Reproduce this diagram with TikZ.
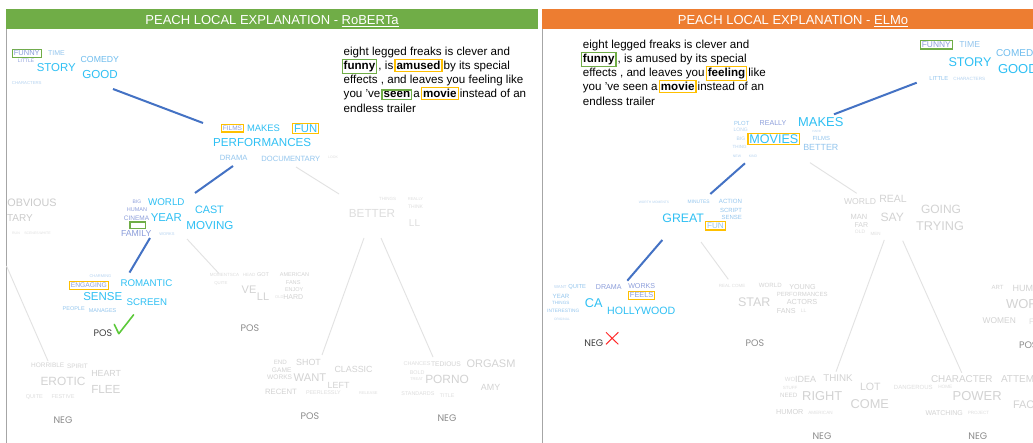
\documentclass[tikz,border=0pt]{standalone}
\usepackage{fontspec}
\setmainfont{Liberation Sans}
\newfontfamily\labfont{Poppins}

\definecolor{barG}{HTML}{70AD47}
\definecolor{barO}{HTML}{ED7D31}
\definecolor{boxG}{HTML}{70AD47}
\definecolor{boxO}{HTML}{FFC000}
\definecolor{wCyan}{HTML}{2FC0F4}
\definecolor{wSky}{HTML}{6FBDEE}
\definecolor{wPale}{HTML}{94C6EE}
\definecolor{wPeri}{HTML}{8C9EDB}
\definecolor{wFaint}{HTML}{B5D3F0}
\definecolor{gA}{HTML}{CBCBCB}
\definecolor{gB}{HTML}{D3D3D3}
\definecolor{gC}{HTML}{DEDEDE}
\definecolor{edgeOn}{HTML}{4472C4}
\definecolor{edgeOff}{HTML}{E2E2E2}
\definecolor{labOn}{HTML}{404040}
\definecolor{labOff}{HTML}{8C8C8C}
\definecolor{frameC}{HTML}{A6A6A6}
\definecolor{tickC}{HTML}{5CC93A}
\definecolor{crossC}{HTML}{FF2A2A}

\setlength{\fboxsep}{1pt}
\setlength{\fboxrule}{1.2pt}
% highlighted token inside the sentence; the frame overhangs into the spaces
\newcommand{\hlbox}[2]{\hspace*{-2.2pt}\smash{\fcolorbox{#1}{white}{\textbf{#2}}}\hspace*{-2.2pt}}
% one word of a word cloud: [options]{name}{x}{y}{size}{colour}{text}
\newcommand{\cloudword}[7][]{\node[cloud,text=#6,font=\fontsize{#5}{#5}\selectfont,#1] (#2) at (#3,#4) {#7};}

\tikzset{
  cloud/.style={inner sep=0pt, outer sep=0pt, anchor=center},
  gframe/.style={draw=boxG, line width=1.2pt, inner sep=1.4pt},
  oframe/.style={draw=boxO, line width=1.2pt, inner sep=1.4pt},
  edgeon/.style={draw=edgeOn, line width=2pt},
  edgeoff/.style={draw=edgeOff, line width=0.9pt},
  leafon/.style={cloud, text=labOn, font=\labfont\fontsize{9.5}{9.5}\selectfont},
  leafoff/.style={cloud, text=labOff, font=\labfont\fontsize{9.5}{9.5}\selectfont},
  header/.style={inner sep=0pt, anchor=base, text=white, font=\fontsize{13}{13}\selectfont},
  sentence/.style={inner sep=0pt, anchor=north west, align=left, font=\fontsize{11.6}{14.1}\selectfont},
}

\begin{document}
\begin{tikzpicture}[x=1pt,y=-1pt]
\useasboundingbox (0,0) rectangle (1033,443);
\fill[white] (0,0) rectangle (1033,443);

% ---------- panel frames and title bars ----------
\fill[barG] (6,9) rectangle (538,29);
\fill[barO] (541.5,9) rectangle (1033,29);
\draw[frameC, line width=0.8pt] (6.5,29) -- (6.5,443);
\draw[frameC, line width=0.8pt] (542,29) -- (542,443);
\node[header] (titleL) at (272,24.2) {PEACH LOCAL EXPLANATION - \underline{RoBERTa}};
\node[header] (titleR) at (793,24.2) {PEACH LOCAL EXPLANATION - \underline{ELMo}};

% ---------- input sentences ----------
\node[sentence] (sentL) at (343.5,47) {eight legged freaks is clever and\\
\hlbox{boxG}{funny} , is \hlbox{boxO}{amused} by its special\\
effects , and leaves you feeling like\\
you 've \hlbox{boxG}{seen} a \hlbox{boxO}{movie} instead of an\\
endless trailer};
\node[sentence] (sentR) at (582.7,40) {eight legged freaks is clever and\\
\hlbox{boxG}{funny} , is amused by its special\\
effects , and leaves you \hlbox{boxO}{feeling} like\\
you 've seen a \hlbox{boxO}{movie} instead of an\\
endless trailer};

% ================= RoBERTa tree =================
% root cloud
\cloudword[gframe]{Lfunny}{26.8}{53.3}{7.5}{wPeri}{FUNNY}
\cloudword{Ltime}{56.5}{53.3}{7}{wPale}{TIME}
\cloudword{Lcomedy}{99.8}{60}{8.7}{wSky}{COMEDY}
\cloudword{Lstory}{56.3}{67.3}{11.4}{wCyan}{STORY}
\cloudword{Lgood}{100}{74.7}{11.6}{wCyan}{GOOD}
\cloudword{Llittle}{26}{61}{4.9}{wPeri}{LITTLE}
\cloudword{Lchar}{26.8}{83}{4.3}{wFaint}{CHARACTERS}
% second level
\cloudword[oframe]{Lfilms}{232.5}{128.3}{6.5}{wPeri}{FILMS}
\cloudword{Lmakes}{263.5}{128.3}{9.4}{wCyan}{MAKES}
\cloudword[oframe]{Lfun}{305.7}{128.5}{11.3}{wCyan}{FUN}
\cloudword{Lperf}{262.2}{142.7}{11.6}{wCyan}{PERFORMANCES}
\cloudword{Ldrama}{233.7}{157.7}{7.6}{wPale}{DRAMA}
\cloudword{Ldoc}{290.8}{159}{7.6}{wPale}{DOCUMENTARY}
\cloudword{Llook}{333}{157}{3.5}{gC}{LOOK}
% third level
\cloudword{Lbig}{136.9}{202}{5}{wPeri}{BIG}
\cloudword{Lworld}{166.3}{202}{9.8}{wCyan}{WORLD}
\cloudword{Lhuman}{136.9}{209.6}{5.5}{wPeri}{HUMAN}
\cloudword{Lyear}{166.3}{217.8}{11.4}{wCyan}{YEAR}
\cloudword{Lcast}{209.4}{209.6}{10.8}{wCyan}{CAST}
\cloudword{Lmoving}{209.9}{225.4}{11.6}{wCyan}{MOVING}
\cloudword{Lcinema}{136.5}{218.5}{6.5}{wPeri}{CINEMA}
\node[draw=boxG, line width=1.2pt, minimum width=15.7pt, minimum height=6.8pt, inner sep=0pt] (Lgbox) at (137.9,225.4) {};
\cloudword{Lfamily}{136.2}{233.3}{8.7}{wPeri}{FAMILY}
\cloudword{Lworks}{167}{234.4}{4}{wFaint}{WORKS}
% hidden sibling on the left
\cloudword{Lobv}{32}{202.7}{10.8}{gA}{OBVIOUS}
\cloudword{Ltary}{20}{218.3}{10}{gA}{TARY}
\cloudword{Lrun}{16}{233}{3.5}{gC}{RUN}
\cloudword{Lscenes}{31.5}{233}{3.5}{gC}{SCENES}
\cloudword{Lwhite}{45}{233}{3.5}{gC}{WHITE}
% predicted leaf
\cloudword{Lcharming}{100.4}{276}{4}{wFaint}{CHARMING}
\cloudword[oframe]{Lengaging}{88.9}{285.5}{6.7}{wPeri}{ENGAGING}
\cloudword{Lromantic}{146.4}{283.3}{9.7}{wCyan}{ROMANTIC}
\cloudword{Lsense}{102.8}{297}{11.5}{wCyan}{SENSE}
\cloudword{Lscreen}{146.9}{302}{9.7}{wCyan}{SCREEN}
\cloudword{Lpeople}{73.7}{309}{5.5}{wPale}{PEOPLE}
\cloudword{Lmanages}{102.6}{310.7}{5.5}{wPale}{MANAGES}
\node[leafon] (LposA) at (103,333) {POS};
\draw[tickC, line width=1.6pt, line cap=round, line join=round]
  (114.3,324.4) -- (118.8,333.7) -- (133.6,314.8);
% other leaves
\cloudword{Lmoment}{224.5}{275}{4.5}{gC}{MOMENTSCA}
\cloudword{Lhead}{249.2}{275}{4.5}{gC}{HEAD}
\cloudword{Lgot}{263}{275}{5.5}{gB}{GOT}
\cloudword{Lamerican}{294.5}{275}{5.5}{gB}{AMERICAN}
\cloudword{Lfans}{293.2}{282.7}{5.6}{gB}{FANS}
\cloudword{Lenjoy}{294.2}{290}{5.5}{gB}{ENJOY}
\cloudword{Lhard}{293.3}{297.3}{7}{gB}{HARD}
\cloudword{Lold}{279.3}{297.3}{4}{gC}{OLD}
\cloudword{Lquite}{220.9}{283.3}{4.3}{gC}{QUITE}
\cloudword{Lve}{249}{290}{11}{gB}{VE}
\cloudword{Lll}{263}{297}{11}{gB}{LL}
\node[leafoff] (LposB) at (250,328.6) {POS};

\cloudword{Lbetter}{372}{213.3}{11.7}{gC}{BETTER}
\cloudword{Lthings}{387.5}{199}{4.5}{gC}{THINGS}
\cloudword{Lreally}{415.5}{199}{4.1}{gC}{REALLY}
\cloudword{Lthink}{415.5}{206.7}{5}{gC}{THINK}
\cloudword{Llltwo}{414.5}{222.7}{10}{gC}{LL}

\cloudword{Lend}{280.3}{362.3}{6.2}{gB}{END}
\cloudword{Lshot}{308.5}{362.3}{8.9}{gB}{SHOT}
\cloudword{Lgame}{281.7}{369.9}{6.6}{gB}{GAME}
\cloudword{Lworkstwo}{279.6}{377.1}{6.6}{gB}{WORKS}
\cloudword{Lwant}{309.9}{377.8}{11.2}{gB}{WANT}
\cloudword{Lclassic}{353.6}{369.9}{8.9}{gB}{CLASSIC}
\cloudword{Lleft}{338.6}{385}{8.9}{gB}{LEFT}
\cloudword{Lrecent}{281}{391.9}{7.7}{gB}{RECENT}
\cloudword{Lpeer}{323.4}{393}{5.4}{gC}{PEERLESSLY}
\cloudword{Lrelease}{368.4}{393}{4}{gC}{RELEASE}
\node[leafoff] (LposC) at (310,415.7) {POS};

\cloudword{Lchances}{417}{364}{5.5}{gC}{CHANCES}
\cloudword{Ltedious}{445.9}{364}{6.7}{gB}{TEDIOUS}
\cloudword{Lorgasm}{491}{363.3}{11}{gB}{ORGASM}
\cloudword{Lbold}{417.2}{372.6}{5.4}{gC}{BOLD}
\cloudword{Ltreat}{416.7}{379.5}{4}{gC}{TREAT}
\cloudword{Lporno}{447.1}{379.5}{11.9}{gB}{PORNO}
\cloudword{Lamy}{490.6}{387.1}{8.9}{gB}{AMY}
\cloudword{Lstand}{417.9}{394}{5.4}{gC}{STANDARDS}
\cloudword{Ltitle}{447.2}{395.4}{5.3}{gC}{TITLE}
\node[leafoff] (LnegB) at (447,417.8) {NEG};

\cloudword{Lhorrible}{47.7}{365}{6.5}{gB}{HORRIBLE}
\cloudword{Lspirit}{77.4}{366.4}{6.4}{gB}{SPIRIT}
\cloudword{Lheart}{106.2}{373.7}{8.8}{gB}{HEART}
\cloudword{Lerotic}{63}{381.3}{11.9}{gB}{EROTIC}
\cloudword{Lflee}{105.9}{389.2}{11.7}{gB}{FLEE}
\cloudword{Lquitetwo}{34.4}{396.7}{5.6}{gC}{QUITE}
\cloudword{Lfestive}{63}{396.7}{5.5}{gC}{FESTIVE}
\node[leafoff] (LnegA) at (63,420.2) {NEG};

% edge end points
\coordinate (Lr-o) at (113,89);    \coordinate (L2-i) at (203,123);
\coordinate (L2-a) at (233,166);   \coordinate (L3-i) at (195,193);
\coordinate (L2-b) at (296,167);   \coordinate (Lb-i) at (339,194);
\coordinate (L3-a) at (150,238);   \coordinate (L4-i) at (129.5,272.6);
\coordinate (L3-b) at (187,239);   \coordinate (Lv-i) at (219,273.6);
\coordinate (Lo-a) at (6.5,266);   \coordinate (Ln-i) at (48,361);
\coordinate (Lb-a) at (364,238);   \coordinate (Lw-i) at (322,355);
\coordinate (Lb-b) at (381,238);   \coordinate (Lp-i) at (433,357);

\draw[edgeoff] (L2-b) -- (Lb-i);
\draw[edgeoff] (L3-b) -- (Lv-i);
\draw[edgeoff] (Lo-a) -- (Ln-i);
\draw[edgeoff] (Lb-a) -- (Lw-i);
\draw[edgeoff] (Lb-b) -- (Lp-i);
\draw[edgeon] (Lr-o) -- (L2-i);
\draw[edgeon] (L2-a) -- (L3-i);
\draw[edgeon] (L3-a) -- (L4-i);

% ================= ELMo tree =================
\cloudword[gframe]{Rfunny}{936.3}{44.7}{8.4}{wPeri}{FUNNY}
\cloudword{Rtime}{969.7}{44.3}{8.7}{wPale}{TIME}
\cloudword[anchor=west]{Rcomedy}{996}{52.7}{10}{wSky}{COMEDY}
\cloudword{Rstory}{970}{61.7}{12.6}{wCyan}{STORY}
\cloudword[anchor=west]{Rgood}{998}{69.3}{13}{wCyan}{GOOD}
\cloudword{Rlittle}{938.8}{78.3}{5.8}{wPale}{LITTLE}
\cloudword{Rchar}{969.3}{78.7}{4.6}{wFaint}{CHARACTERS}

\cloudword{Rmakes}{820.8}{121.7}{12.9}{wCyan}{MAKES}
\cloudword{Rplot}{741.7}{123.3}{5.9}{wPale}{PLOT}
\cloudword{Rreally}{773}{123.3}{7.1}{wPeri}{REALLY}
\cloudword{Rlong}{740.7}{130}{5}{wFaint}{LONG}
\cloudword{Rbig}{741}{139}{5}{wFaint}{BIG}
\cloudword[oframe]{Rmovies}{773.8}{139}{12.6}{wCyan}{MOVIES}
\cloudword{Rfilms}{821.3}{138.3}{5.9}{wPale}{FILMS}
\cloudword{Rbetter}{820.8}{147.3}{8.9}{wPale}{BETTER}
\cloudword{Rthing}{739.7}{147.3}{4.5}{wFaint}{THING}
\cloudword{Rhard}{816.7}{131}{3}{wFaint}{HARD}
\cloudword{Rnew}{737}{156}{3.5}{wFaint}{NEW}
\cloudword{Rkind}{753}{156}{3.5}{wFaint}{KIND}

\cloudword{Rgreat}{683.2}{218.3}{12.3}{wCyan}{GREAT}
\cloudword[oframe]{Rfun}{715.5}{225.8}{8.1}{wPale}{FUN}
\cloudword{Rminutes}{698.7}{201.7}{4.9}{wPale}{MINUTES}
\cloudword{Raction}{730.5}{201.7}{6.1}{wPale}{ACTION}
\cloudword{Rscript}{731}{210.7}{6}{wPale}{SCRIPT}
\cloudword{Rsense}{731.8}{217.7}{6}{wPale}{SENSE}
\cloudword{Rworth}{645}{202}{3.3}{wFaint}{WORTH}
\cloudword{Rmoments}{660.7}{202}{3.3}{wFaint}{MOMENTS}

\cloudword{Rwant}{560.3}{286.7}{4.3}{wFaint}{WANT}
\cloudword{Rquite}{577.2}{286.7}{5.8}{wPale}{QUITE}
\cloudword{Rdrama}{608.8}{287.3}{7.1}{wPeri}{DRAMA}
\cloudword{Rworks}{641.7}{285.7}{7.1}{wPeri}{WORKS}
\cloudword[oframe]{Rfeels}{641.7}{295.3}{7.4}{wPeri}{FEELS}
\cloudword{Ryear}{561}{296}{6.1}{wPale}{YEAR}
\cloudword{Rthings}{560.7}{302.7}{4.6}{wPale}{THINGS}
\cloudword{Rca}{593.8}{303.3}{12.7}{wCyan}{CA}
\cloudword{Rholly}{641.2}{311}{10.6}{wCyan}{HOLLYWOOD}
\cloudword{Rinter}{563.3}{311}{4.8}{wPale}{INTERESTING}
\cloudword{Rorig}{562}{319.3}{3.3}{wFaint}{ORIGINAL}
\node[leafon] (RnegA) at (593.8,343.3) {NEG};
\draw[crossC, line width=1pt] (606,332.3) -- (618.3,344.3);
\draw[crossC, line width=1pt] (618.3,332.3) -- (606,344.3);

\cloudword{Rrealcome}{732}{285.7}{4.5}{gC}{REAL COME}
\cloudword{Rworld}{770.3}{285.7}{6.1}{gB}{WORLD}
\cloudword{Ryoung}{802.5}{286.7}{7.2}{gB}{YOUNG}
\cloudword{Rperf}{802.2}{294.3}{6}{gB}{PERFORMANCES}
\cloudword{Rstar}{754.3}{302.3}{12.5}{gB}{STAR}
\cloudword{Ractors}{802}{302.3}{7.3}{gB}{ACTORS}
\cloudword{Rfans}{786.3}{310.7}{7.2}{gB}{FANS}
\cloudword{Rll}{803.7}{310.7}{5}{gC}{LL}
\node[leafoff] (RposA) at (755,343.3) {POS};

\cloudword{Rworldtwo}{860}{201.7}{8.6}{gB}{WORLD}
\cloudword{Rreal}{893}{199}{10.5}{gB}{REAL}
\cloudword{Rsay}{892.2}{217.3}{12.1}{gB}{SAY}
\cloudword{Rgoing}{941}{209}{12}{gB}{GOING}
\cloudword{Rtrying}{940}{225.7}{12.7}{gB}{TRYING}
\cloudword{Rman}{859}{217.3}{7.5}{gB}{MAN}
\cloudword{Rfar}{861.3}{224.7}{7}{gB}{FAR}
\cloudword{Rold}{860}{232}{4.9}{gC}{OLD}
\cloudword{Rmen}{875.7}{233.7}{4.5}{gC}{MEN}

\cloudword{Rart}{997.5}{287.7}{6}{gB}{ART}
\cloudword[anchor=west]{Rhum}{1012.7}{288.3}{9}{gB}{HUM}
\cloudword[anchor=west]{Rwor}{1006}{304}{13}{gB}{WOR}
\cloudword{Rwomen}{999.3}{321}{8.4}{gB}{WOMEN}
\cloudword[anchor=west]{Rf}{1029}{322}{8}{gC}{F}
\node[leafoff, anchor=west] (RposB) at (1019,345) {POS};

\cloudword{Rwo}{790}{379.3}{6}{gC}{WO}
\cloudword{Ridea}{805.5}{379.3}{9}{gB}{IDEA}
\cloudword{Rthink}{838}{378.3}{9.8}{gB}{THINK}
\cloudword{Rlot}{870.3}{387}{10.6}{gB}{LOT}
\cloudword{Rstuff}{790}{388.3}{4.5}{gC}{STUFF}
\cloudword{Rneed}{788.7}{395.7}{6.2}{gB}{NEED}
\cloudword{Rright}{822.3}{395.7}{12.9}{gB}{RIGHT}
\cloudword{Rcome}{869.8}{404.3}{12.8}{gB}{COME}
\cloudword{Rhumor}{789.7}{411.7}{7.2}{gB}{HUMOR}
\cloudword{Ramerican}{820.5}{412.7}{4.6}{gC}{AMERICAN}
\cloudword{Rdanger}{913.3}{387.7}{6}{gC}{DANGEROUS}
\cloudword{Rhome}{945.3}{387.3}{4.7}{gC}{HOME}
\node[leafoff] (RnegB) at (822,436) {NEG};

\cloudword{Rcharacter}{961.8}{379}{9.9}{gB}{CHARACTER}
\cloudword[anchor=west]{Rattem}{1001}{379}{10}{gB}{ATTEM}
\cloudword{Rpower}{977.2}{395.7}{13}{gB}{POWER}
\cloudword{Rwatching}{944.2}{413.3}{7}{gB}{WATCHING}
\cloudword{Rproject}{978.5}{412.7}{4.6}{gC}{PROJECT}
\cloudword[anchor=west]{Rfact}{1013}{404.3}{11}{gB}{FAC}
\node[leafoff] (RnegC) at (977.8,436) {NEG};

% edge end points
\coordinate (Rr-o) at (916.7,82.7);  \coordinate (R2-i) at (834,114.3);
\coordinate (R2-a) at (745,163.3);   \coordinate (R3-i) at (710.3,194);
\coordinate (R2-b) at (810,162.7);   \coordinate (Rs-i) at (856.7,193.3);
\coordinate (R3-a) at (662.3,240);   \coordinate (R4-i) at (627.3,280.7);
\coordinate (R3-b) at (701,242);     \coordinate (Rt-i) at (728.3,279.3);
\coordinate (Rs-a) at (884.3,240);   \coordinate (Ru-i) at (836,371.7);
\coordinate (Rs-b) at (902.7,240.7); \coordinate (Rv-i) at (961.7,372.7);

\draw[edgeoff] (R2-b) -- (Rs-i);
\draw[edgeoff] (R3-b) -- (Rt-i);
\draw[edgeoff] (Rs-a) -- (Ru-i);
\draw[edgeoff] (Rs-b) -- (Rv-i);
\draw[edgeon] (Rr-o) -- (R2-i);
\draw[edgeon] (R2-a) -- (R3-i);
\draw[edgeon] (R3-a) -- (R4-i);
\end{tikzpicture}
\end{document}
